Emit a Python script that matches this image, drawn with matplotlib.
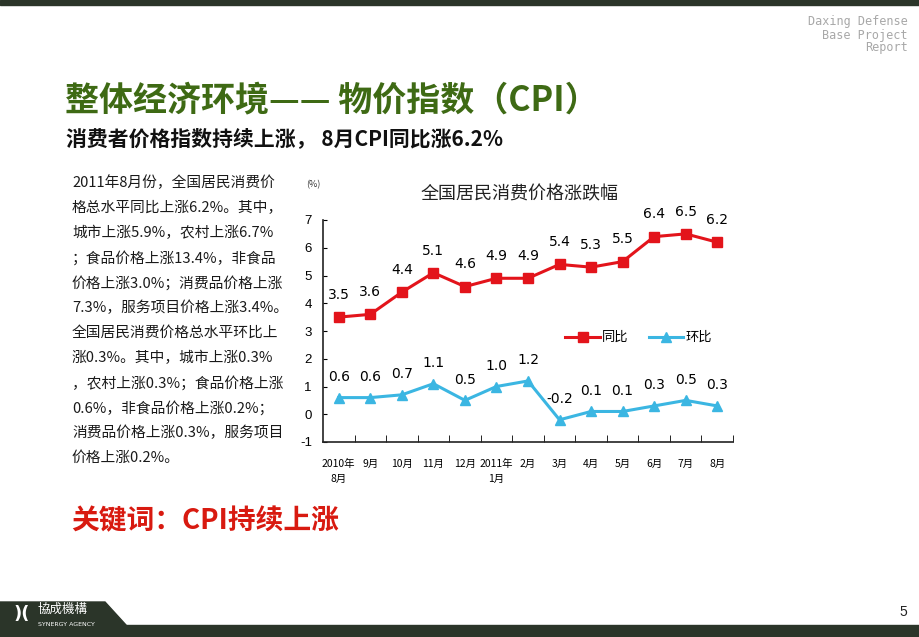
import matplotlib.pyplot as plt
from matplotlib.patches import Polygon, Rectangle

plt.rcParams['font.family'] = ['Noto Sans CJK SC', 'DejaVu Sans']

### Data ###
months = ["2010年\n8月", "9月", "10月", "11月", "12月", "2011年\n1月", "2月",
          "3月", "4月", "5月", "6月", "7月", "8月"]
yoy = [3.5, 3.6, 4.4, 5.1, 4.6, 4.9, 4.9, 5.4, 5.3, 5.5, 6.4, 6.5, 6.2]
mom = [0.6, 0.6, 0.7, 1.1, 0.5, 1.0, 1.2, -0.2, 0.1, 0.1, 0.3, 0.5, 0.3]
yticks = [-1, 0, 1, 2, 3, 4, 5, 6, 7]

body_lines = [
    "2011年8月份，全国居民消费价",
    "格总水平同比上涨6.2%。其中，",
    "城市上涨5.9%，农村上涨6.7%",
    "；食品价格上涨13.4%，非食品",
    "价格上涨3.0%；消费品价格上涨",
    "7.3%，服务项目价格上涨3.4%。",
    "全国居民消费价格总水平环比上",
    "涨0.3%。其中，城市上涨0.3%",
    "，农村上涨0.3%；食品价格上涨",
    "0.6%，非食品价格上涨0.2%；",
    "消费品价格上涨0.3%，服务项目",
    "价格上涨0.2%。",
]

W, H = 920, 637
fig = plt.figure(figsize=(W / 100, H / 100), dpi=100)
fig.patch.set_facecolor("white")

def fx(px):
    return px / W

def fy(py):
    return 1 - py / H

### Slide decoration ###
dark = "#2b3529"
fig.patches.append(Rectangle((0, fy(5)), 1, 5 / H, transform=fig.transFigure,
                             color=dark, zorder=0))
fig.patches.append(Rectangle((0, 0), 1, 12 / H, transform=fig.transFigure,
                             color=dark, zorder=0))
fig.patches.append(Polygon([(0, 0), (0, fy(602)), (fx(105), fy(602)),
                            (fx(126), fy(625)), (fx(126), 0)],
                           closed=True, transform=fig.transFigure,
                           color=dark, zorder=0))

for i, t in enumerate(["Daxing Defense", "Base Project", "Report"]):
    fig.text(fx(908), fy(22 + 13 * i), t, ha="right", va="center",
             fontsize=8.5, color="#a8a8a8", family="DejaVu Sans Mono")

fig.text(fx(22), fy(614), ")(", ha="center", va="center", fontsize=13,
         color="white", fontweight="bold", family="DejaVu Sans")
fig.text(fx(38), fy(609), "協成機構", ha="left", va="center", fontsize=9,
         color="white", family=["Noto Sans CJK TC", "DejaVu Sans"])
fig.text(fx(38), fy(624), "SYNERGY AGENCY", ha="left", va="center",
         fontsize=4.5, color="white", family="DejaVu Sans")
fig.text(fx(903), fy(612), "5", ha="center", va="center", fontsize=10,
         color="#222222", family="Liberation Sans")

### Titles ###
fig.text(fx(65), fy(100), "整体经济环境—— 物价指数（CPI）", ha="left", va="center",
         fontsize=24.5, fontweight="bold", color="#3e6a14")
fig.text(fx(66), fy(139), "消费者价格指数持续上涨， 8月CPI同比涨6.2%", ha="left",
         va="center", fontsize=15, fontweight="bold", color="#111111")
fig.text(fx(71), fy(521), "关键词：CPI持续上涨", ha="left", va="center",
         fontsize=20, fontweight="bold", color="#d81a10")

for i, line in enumerate(body_lines):
    fig.text(fx(72), fy(183 + 25 * i), line, ha="left", va="center",
             fontsize=10.6, color="#1a1a1a")

### Chart ###
ax = fig.add_axes([fx(323), fy(442), fx(410), 222 / H])
x = list(range(len(months)))

ax.plot(x, yoy, color="#e3141b", lw=2.2, marker="s", ms=7, label="同比")
ax.plot(x, mom, color="#3bb6e2", lw=2.2, marker="^", ms=7.5, label="环比")

for xi, v in zip(x, yoy):
    ax.annotate(f"{v:.1f}", (xi, v), xytext=(0, 16), textcoords="offset points",
                ha="center", va="center", fontsize=10, family="Liberation Sans Narrow")
for xi, v in zip(x, mom):
    ax.annotate(f"{v:.1f}", (xi, v), xytext=(0, 15), textcoords="offset points",
                ha="center", va="center", fontsize=10, family="Liberation Sans Narrow")

ax.set_xlim(-0.5, len(months) - 0.5)
ax.set_ylim(-1, 7)
ax.set_yticks(yticks)
ax.set_yticklabels([str(v) for v in yticks], family="Liberation Sans", fontsize=9.5)
ax.set_xticks(x)
ax.set_xticklabels(months, fontsize=7.5, linespacing=1.7, va="top")
ax.set_xticks([i + 0.5 for i in x], minor=True)
ax.tick_params(axis="x", which="major", length=0, pad=12)
ax.tick_params(axis="x", which="minor", direction="in", length=5)
ax.tick_params(axis="y", direction="in", length=3, pad=8)
for s in ["top", "right"]:
    ax.spines[s].set_visible(False)
for s in ["left", "bottom"]:
    ax.spines[s].set_linewidth(1.2)
    ax.spines[s].set_color("#222222")
ax.set_facecolor("white")

ax.legend(loc="center", bbox_to_anchor=(0.77, 0.47), ncol=2, frameon=False,
          fontsize=9.5, handlelength=2.6, columnspacing=1.5, handletextpad=0.2)

fig.text(fx(313), fy(185), "(%)", ha="center", va="center", fontsize=6.5,
         color="#333333")
fig.text(fx(520), fy(194), "全国居民消费价格涨跌幅", ha="center", va="center",
         fontsize=13, color="#222222")

fig.savefig("out.png", dpi=100)
